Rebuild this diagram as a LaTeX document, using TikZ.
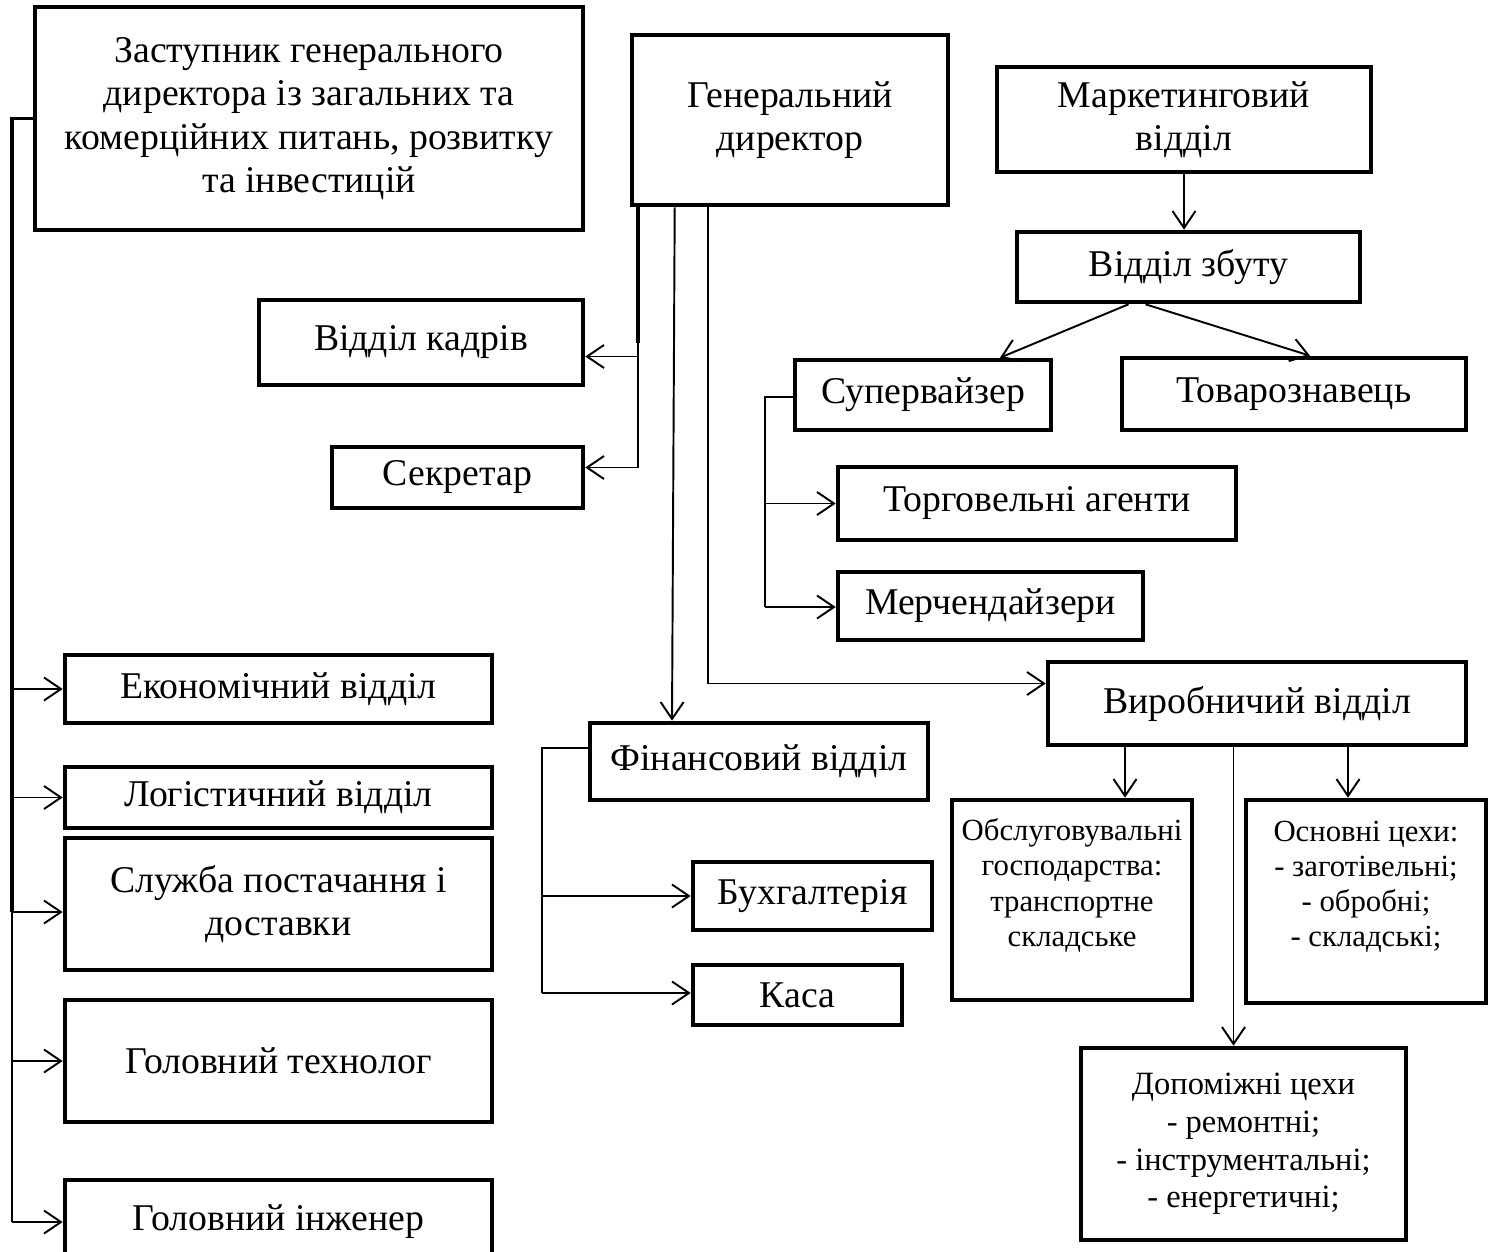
\documentclass[tikz,border=0pt]{standalone}
\usepackage{fontspec}
\setmainfont{Liberation Serif}
\usetikzlibrary{arrows.meta}

\def\px{0.02cm}
\tikzset{
	box/.style={draw, line width=2.6pt, align=center, inner sep=2pt},
	wh/.style 2 args={minimum width=#1*\px, minimum height=#2*\px},
	link/.style={line width=1.1pt},
	bus/.style={line width=2.2pt},
	small/.style={font=\fontsize{17.5}{20}\selectfont},
	mid/.style={font=\fontsize{18.5}{21.5}\selectfont},
}

\begin{document}
\begin{tikzpicture}[x=0.02cm, y=-0.02cm, >={Straight Barb[length=0.34cm,width=0.46cm]},
	font=\fontsize{21.5}{24.7}\selectfont]

	\useasboundingbox (0,0) rectangle (1490,1251);

	% top level
	\node [box, wh={548}{223}] (dep) at (309,118.5)
		{Заступник генерального\\директора із загальних та\\комерційних питань, розвитку\\та інвестицій};
	\node [box, wh={316}{170}] (gd) at (790,120) {Генеральний\\директор};
	\node [box, wh={374}{105}] (mkt) at (1184,119.5) {Маркетинговий\\відділ};

	% marketing branch
	\node [box, wh={343}{70}] (sales) at (1188.5,267) {Відділ збуту};
	\node [box, wh={256}{70}] (sup) at (923,395) {Супервайзер};
	\node [box, wh={344}{72}] (tov) at (1294,394) {Товарознавець};
	\node [box, wh={398}{73}] (agents) at (1037,503.5) {Торговельні агенти};
	\node [box, wh={305}{68}] (merch) at (990.5,606) {Мерчендайзери};

	% director's staff
	\node [box, wh={324}{85}] (hr) at (421,342.5) {Відділ кадрів};
	\node [box, wh={251}{61}] (sec) at (457.5,477.5) {Секретар};

	% finance
	\node [box, wh={338}{77}] (fin) at (759,761.5) {Фінансовий відділ};
	\node [box, wh={239}{68}] (acc) at (812.5,896) {Бухгалтерія};
	\node [box, wh={209}{60}] (cash) at (797.5,995) {Каса};

	% production
	\node [box, wh={418}{83}] (prod) at (1257,703.5) {Виробничий відділ};
	\node [box, small, wh={240}{200}] (serv) at (1072,900)
		{Обслуговувальні\\господарства:\\транспортне\\складське\\~};
	\node [box, small, wh={240}{203}] (main) at (1366,901.5)
		{Основні цехи:\\- заготівельні;\\- обробні;\\- складські;\\~};
	\node [box, mid, wh={325}{192}] (aux) at (1243.5,1144)
		{Допоміжні цехи\\- ремонтні;\\- інструментальні;\\- енергетичні;};

	% deputy's departments
	\foreach \n/\l/\y/\h in {econ/Економічний відділ/689/68,
		log/Логістичний відділ/797.5/61,
		supply/{Служба постачання і\\доставки}/904/132,
		tech/Головний технолог/1061/122,
		eng/Головний інженер/1222/84}
		\node [box, wh={427}{\h}] (\n) at (278.5,\y) {\l};

	% left bus
	\coordinate (busmid) at (12,912);
	\coordinate (busend) at (12,1222);
	\draw [bus] (dep.west) -| (busmid);
	\draw [link] (busmid) -- (busend);
	\foreach \n in {econ,log,tech,eng}
		\draw [link, ->] (busend |- \n.west) -- (\n.west);
	\draw [link, ->] (busmid) -- (busmid -| supply.west);

	% lines from the director
	\coordinate (gda) at ([xshift=8*\px]gd.south west);
	\coordinate (gdb) at ([xshift=45*\px]gd.south west);
	\coordinate (gdc) at ([xshift=78*\px]gd.south west);
	\draw [bus] (gda) -- (gda |- hr.east);
	\draw [link, ->] (gda |- hr.east) ++(0,14) coordinate (hrin) -- (hrin -| hr.east);
	\draw [link] (gda |- hr.east) -- ([yshift=10*\px]gda |- sec.east);
	\draw [link, ->] ([yshift=10*\px]gda |- sec.east) -- ([yshift=10*\px]sec.east);
	\draw [link, ->] (gdb) -- ([xshift=-87*\px]fin.north);
	\draw [link, ->] (gdc) |- ([yshift=20*\px]prod.west);

	% marketing branch
	\draw [link, ->] (mkt.south) -- (mkt.south |- sales.north);
	\draw [link, ->] ([xshift=-60*\px]sales.south) -- ([xshift=77*\px]sup.north);
	\draw [link, ->] ([xshift=-43*\px]sales.south) -- ([xshift=16*\px]tov.north);
	\coordinate (supbus) at (765,607);
	\draw [link] ([yshift=-2*\px]sup.west) -| (supbus);
	\draw [link, ->] (supbus |- agents.west) -- (agents.west);
	\draw [link, ->] (supbus) -- (supbus -| merch.west);

	% finance
	\coordinate (finbus) at (542,993);
	\draw [link] ([yshift=13.5*\px]fin.west) -| (finbus);
	\draw [link, ->] (finbus |- acc.west) -- (acc.west);
	\draw [link, ->] (finbus) -- (finbus -| cash.west);

	% production
	\coordinate (servin) at ([xshift=53*\px]serv.north);
	\coordinate (mainin) at ([xshift=-18*\px]main.north);
	\coordinate (auxin) at ([xshift=-10*\px]aux.north);
	\foreach \c in {servin,mainin,auxin}
		\draw [link, ->] (\c |- prod.south) -- (\c);

\end{tikzpicture}
\end{document}
